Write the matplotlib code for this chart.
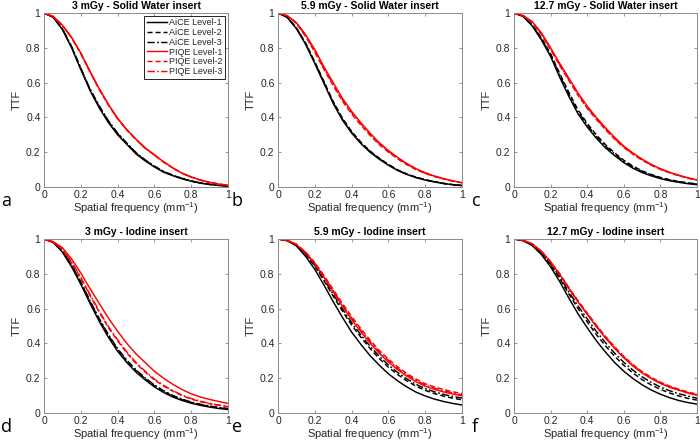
import matplotlib
matplotlib.use("Agg")
import matplotlib.pyplot as plt

plt.rcParams['font.family'] = ['Liberation Sans', 'DejaVu Sans']
plt.rcParams['mathtext.fontset'] = 'custom'
plt.rcParams['mathtext.rm'] = 'Liberation Sans'
plt.rcParams['mathtext.it'] = 'Liberation Sans:italic'

freq = [0, 0.05, 0.10, 0.15, 0.20, 0.25, 0.30, 0.35, 0.40, 0.45, 0.50,
        0.55, 0.60, 0.65, 0.70, 0.75, 0.80, 0.85, 0.90, 0.95, 1.00]

series_labels = ["AiCE Level-1", "AiCE Level-2", "AiCE Level-3",
                 "PIQE Level-1", "PIQE Level-2", "PIQE Level-3"]
panel_titles = ["3 mGy - Solid Water insert", "5.9 mGy - Solid Water insert",
                "12.7 mGy - Solid Water insert", "3 mGy - Iodine insert",
                "5.9 mGy - Iodine insert", "12.7 mGy - Iodine insert"]
panel_letters = ["a", "b", "c", "d", "e", "f"]

# Panel a : 3 mGy - Solid Water
a_aice1 = [1, 0.975, 0.905, 0.80, 0.675, 0.555, 0.455, 0.37, 0.30, 0.245, 0.19, 0.15, 0.115, 0.085, 0.065, 0.047, 0.033, 0.022, 0.014, 0.009, 0.005]
a_aice2 = [1, 0.976, 0.908, 0.805, 0.680, 0.560, 0.462, 0.377, 0.306, 0.25, 0.195, 0.154, 0.118, 0.088, 0.067, 0.049, 0.034, 0.023, 0.015, 0.009, 0.005]
a_aice3 = [1, 0.976, 0.910, 0.808, 0.684, 0.564, 0.467, 0.381, 0.31, 0.253, 0.198, 0.156, 0.12, 0.09, 0.068, 0.05, 0.035, 0.024, 0.015, 0.01, 0.006]
a_piqe1 = [1, 0.98, 0.93, 0.86, 0.77, 0.665, 0.565, 0.475, 0.395, 0.33, 0.275, 0.225, 0.185, 0.145, 0.11, 0.08, 0.058, 0.04, 0.027, 0.017, 0.01]
a_piqe2 = [1, 0.98, 0.928, 0.857, 0.766, 0.661, 0.561, 0.471, 0.392, 0.327, 0.272, 0.222, 0.183, 0.143, 0.109, 0.079, 0.057, 0.039, 0.026, 0.017, 0.01]
a_piqe3 = [1, 0.98, 0.929, 0.858, 0.768, 0.663, 0.563, 0.473, 0.393, 0.328, 0.273, 0.223, 0.184, 0.144, 0.109, 0.079, 0.057, 0.04, 0.027, 0.017, 0.01]

# Panel b : 5.9 mGy - Solid Water
b_aice1 = [1, 0.975, 0.91, 0.82, 0.71, 0.595, 0.48, 0.385, 0.31, 0.25, 0.20, 0.16, 0.125, 0.095, 0.072, 0.054, 0.04, 0.029, 0.02, 0.013, 0.008]
b_aice2 = [1, 0.976, 0.915, 0.828, 0.72, 0.606, 0.492, 0.396, 0.32, 0.258, 0.207, 0.166, 0.13, 0.099, 0.075, 0.057, 0.042, 0.031, 0.021, 0.014, 0.009]
b_aice3 = [1, 0.976, 0.913, 0.824, 0.715, 0.60, 0.486, 0.39, 0.315, 0.254, 0.204, 0.163, 0.128, 0.097, 0.074, 0.055, 0.041, 0.03, 0.02, 0.013, 0.008]
b_piqe1 = [1, 0.985, 0.945, 0.875, 0.79, 0.69, 0.60, 0.51, 0.435, 0.37, 0.31, 0.255, 0.21, 0.17, 0.135, 0.105, 0.082, 0.063, 0.048, 0.035, 0.025]
b_piqe2 = [1, 0.984, 0.94, 0.865, 0.775, 0.675, 0.583, 0.494, 0.42, 0.356, 0.297, 0.244, 0.20, 0.162, 0.128, 0.10, 0.078, 0.06, 0.046, 0.034, 0.024]
b_piqe3 = [1, 0.985, 0.942, 0.87, 0.782, 0.682, 0.591, 0.502, 0.428, 0.363, 0.304, 0.25, 0.205, 0.166, 0.132, 0.103, 0.08, 0.062, 0.047, 0.035, 0.025]

# Panel c : 12.7 mGy - Solid Water
c_aice1 = [1, 0.98, 0.925, 0.845, 0.75, 0.63, 0.52, 0.42, 0.345, 0.28, 0.225, 0.18, 0.14, 0.108, 0.083, 0.064, 0.048, 0.036, 0.027, 0.019, 0.013]
c_aice2 = [1, 0.982, 0.932, 0.857, 0.766, 0.652, 0.543, 0.443, 0.366, 0.30, 0.243, 0.196, 0.154, 0.12, 0.093, 0.072, 0.055, 0.042, 0.032, 0.024, 0.018]
c_aice3 = [1, 0.981, 0.929, 0.852, 0.759, 0.643, 0.533, 0.433, 0.357, 0.291, 0.235, 0.189, 0.148, 0.115, 0.089, 0.069, 0.052, 0.04, 0.03, 0.022, 0.016]
c_piqe1 = [1, 0.985, 0.95, 0.885, 0.80, 0.71, 0.625, 0.54, 0.465, 0.40, 0.34, 0.285, 0.235, 0.195, 0.16, 0.13, 0.105, 0.085, 0.068, 0.053, 0.04]
c_piqe2 = [1, 0.985, 0.946, 0.877, 0.79, 0.698, 0.612, 0.527, 0.452, 0.388, 0.329, 0.275, 0.227, 0.188, 0.154, 0.125, 0.101, 0.082, 0.065, 0.051, 0.039]
c_piqe3 = [1, 0.985, 0.948, 0.88, 0.794, 0.703, 0.617, 0.533, 0.458, 0.393, 0.334, 0.279, 0.23, 0.191, 0.157, 0.127, 0.103, 0.083, 0.066, 0.052, 0.039]

# Panel d : 3 mGy - Iodine
d_aice1 = [1, 0.98, 0.925, 0.84, 0.74, 0.63, 0.527, 0.435, 0.355, 0.29, 0.235, 0.19, 0.15, 0.118, 0.092, 0.072, 0.056, 0.044, 0.034, 0.026, 0.02]
d_aice2 = [1, 0.981, 0.929, 0.848, 0.75, 0.641, 0.538, 0.446, 0.365, 0.299, 0.244, 0.198, 0.157, 0.124, 0.098, 0.077, 0.061, 0.048, 0.038, 0.03, 0.024]
d_aice3 = [1, 0.982, 0.931, 0.852, 0.755, 0.646, 0.543, 0.451, 0.37, 0.304, 0.248, 0.202, 0.161, 0.128, 0.101, 0.08, 0.063, 0.05, 0.04, 0.032, 0.026]
d_piqe1 = [1, 0.985, 0.95, 0.885, 0.805, 0.715, 0.63, 0.545, 0.47, 0.40, 0.34, 0.29, 0.24, 0.20, 0.165, 0.135, 0.11, 0.092, 0.078, 0.066, 0.055]
d_piqe2 = [1, 0.98, 0.94, 0.865, 0.775, 0.675, 0.58, 0.49, 0.415, 0.345, 0.285, 0.235, 0.19, 0.155, 0.125, 0.10, 0.08, 0.065, 0.053, 0.044, 0.036]
d_piqe3 = [1, 0.981, 0.942, 0.869, 0.78, 0.681, 0.586, 0.496, 0.421, 0.351, 0.29, 0.24, 0.195, 0.159, 0.129, 0.103, 0.083, 0.068, 0.055, 0.046, 0.038]

# Panel e : 5.9 mGy - Iodine
e_aice1 = [1, 0.99, 0.96, 0.90, 0.825, 0.735, 0.64, 0.55, 0.465, 0.395, 0.33, 0.275, 0.225, 0.185, 0.15, 0.12, 0.098, 0.08, 0.066, 0.055, 0.046]
e_aice2 = [1, 0.991, 0.965, 0.911, 0.843, 0.76, 0.672, 0.586, 0.506, 0.436, 0.371, 0.313, 0.263, 0.221, 0.185, 0.154, 0.13, 0.112, 0.097, 0.085, 0.076]
e_aice3 = [1, 0.992, 0.966, 0.915, 0.849, 0.768, 0.682, 0.598, 0.519, 0.449, 0.384, 0.326, 0.276, 0.233, 0.196, 0.165, 0.14, 0.122, 0.107, 0.095, 0.086]
e_piqe1 = [1, 0.992, 0.968, 0.92, 0.857, 0.779, 0.696, 0.614, 0.537, 0.467, 0.402, 0.343, 0.293, 0.249, 0.212, 0.18, 0.154, 0.136, 0.121, 0.109, 0.099]
e_piqe2 = [1, 0.993, 0.97, 0.925, 0.865, 0.79, 0.71, 0.63, 0.555, 0.485, 0.42, 0.36, 0.31, 0.265, 0.227, 0.195, 0.168, 0.15, 0.135, 0.122, 0.112]
e_piqe3 = [1, 0.993, 0.969, 0.923, 0.861, 0.785, 0.703, 0.622, 0.546, 0.476, 0.411, 0.352, 0.302, 0.257, 0.219, 0.188, 0.161, 0.143, 0.128, 0.115, 0.105]

# Panel f : 12.7 mGy - Iodine
f_aice1 = [1, 0.99, 0.962, 0.91, 0.84, 0.755, 0.66, 0.57, 0.49, 0.415, 0.35, 0.29, 0.24, 0.198, 0.162, 0.132, 0.108, 0.088, 0.072, 0.06, 0.051]
f_aice2 = [1, 0.991, 0.966, 0.918, 0.852, 0.773, 0.684, 0.60, 0.524, 0.451, 0.386, 0.326, 0.274, 0.23, 0.192, 0.161, 0.136, 0.115, 0.098, 0.084, 0.074]
f_aice3 = [1, 0.992, 0.968, 0.922, 0.858, 0.782, 0.696, 0.615, 0.541, 0.469, 0.404, 0.344, 0.291, 0.246, 0.208, 0.176, 0.149, 0.128, 0.111, 0.097, 0.085]
f_piqe1 = [1, 0.993, 0.971, 0.928, 0.867, 0.796, 0.714, 0.638, 0.567, 0.496, 0.431, 0.371, 0.317, 0.27, 0.23, 0.198, 0.17, 0.148, 0.131, 0.115, 0.102]
f_piqe2 = [1, 0.993, 0.972, 0.93, 0.87, 0.80, 0.72, 0.645, 0.575, 0.505, 0.44, 0.38, 0.325, 0.278, 0.238, 0.205, 0.177, 0.155, 0.137, 0.121, 0.108]
f_piqe3 = [1, 0.993, 0.972, 0.929, 0.869, 0.798, 0.717, 0.641, 0.571, 0.501, 0.436, 0.376, 0.321, 0.274, 0.234, 0.201, 0.174, 0.151, 0.134, 0.118, 0.105]

panels = [
    [a_aice1, a_aice2, a_aice3, a_piqe1, a_piqe2, a_piqe3],
    [b_aice1, b_aice2, b_aice3, b_piqe1, b_piqe2, b_piqe3],
    [c_aice1, c_aice2, c_aice3, c_piqe1, c_piqe2, c_piqe3],
    [d_aice1, d_aice2, d_aice3, d_piqe1, d_piqe2, d_piqe3],
    [e_aice1, e_aice2, e_aice3, e_piqe1, e_piqe2, e_piqe3],
    [f_aice1, f_aice2, f_aice3, f_piqe1, f_piqe2, f_piqe3],
]

colors = ['black', 'black', 'black', '#ff0000', '#ff0000', '#ff0000']
styles = ['-', (0, (3.5, 2.0)), (0, (5, 1.6, 1.2, 1.6)),
          '-', (0, (3.5, 2.0)), (0, (5, 1.6, 1.2, 1.6))]

W, H = 700, 443
fig = plt.figure(figsize=(7.0, 4.43), dpi=100)

# axes boxes in pixel coordinates (left, right, top, bottom)
boxes = [(44, 228, 13, 187), (278, 462, 13, 187), (514, 697, 13, 187),
         (44, 228, 239, 413), (278, 462, 239, 413), (514, 697, 239, 413)]
letter_pos = [(1, 206), (232, 206), (472, 206), (1, 432), (232, 432), (472, 432)]

spine_col = '#8a8a8a'
text_col = '#262626'

for i, (l, r, t, b) in enumerate(boxes):
    ax = fig.add_axes([l / W, 1 - b / H, (r - l) / W, (b - t) / H])
    for j, vals in enumerate(panels[i]):
        ax.plot(freq, vals, color=colors[j], linestyle=styles[j], lw=1.05,
                label=series_labels[j])
    ax.set_xlim(0, 1)
    ax.set_ylim(0, 1)
    ticks = [0, 0.2, 0.4, 0.6, 0.8, 1]
    tlabels = ['0', '0.2', '0.4', '0.6', '0.8', '1']
    ax.set_xticks(ticks)
    ax.set_xticklabels(tlabels)
    ax.set_yticks(ticks)
    ax.set_yticklabels(tlabels)
    ax.tick_params(direction='in', length=2.5, width=0.6, colors=spine_col,
                   labelcolor=text_col, labelsize=7.5, top=True, right=True, pad=2.5)
    for s in ax.spines.values():
        s.set_color(spine_col)
        s.set_linewidth(0.7)
    ax.set_title(panel_titles[i], fontsize=7.5, fontweight='bold', color='black', pad=3)
    ax.set_xlabel('Spatial frequency (mm$\\mathregular{^{-1}}$)', fontsize=8, color=text_col, labelpad=0)
    ax.set_ylabel('TTF', fontsize=8, color=text_col, labelpad=3)
    lx, ly = letter_pos[i]
    fig.text(lx / W, 1 - ly / H, panel_letters[i], fontsize=13,
             family=['Open Sans', 'DejaVu Sans'], color='black', ha='left', va='baseline')
    if i == 0:
        leg = ax.legend(loc='upper right', fontsize=6.5, frameon=True, fancybox=False,
                        edgecolor='black', framealpha=1, labelspacing=0.08,
                        handlelength=2.2, handletextpad=0.3, borderpad=0.3,
                        borderaxespad=0.3)
        leg.get_frame().set_linewidth(0.6)
        for txt in leg.get_texts():
            txt.set_color(text_col)

fig.savefig('out.png', dpi=100)
